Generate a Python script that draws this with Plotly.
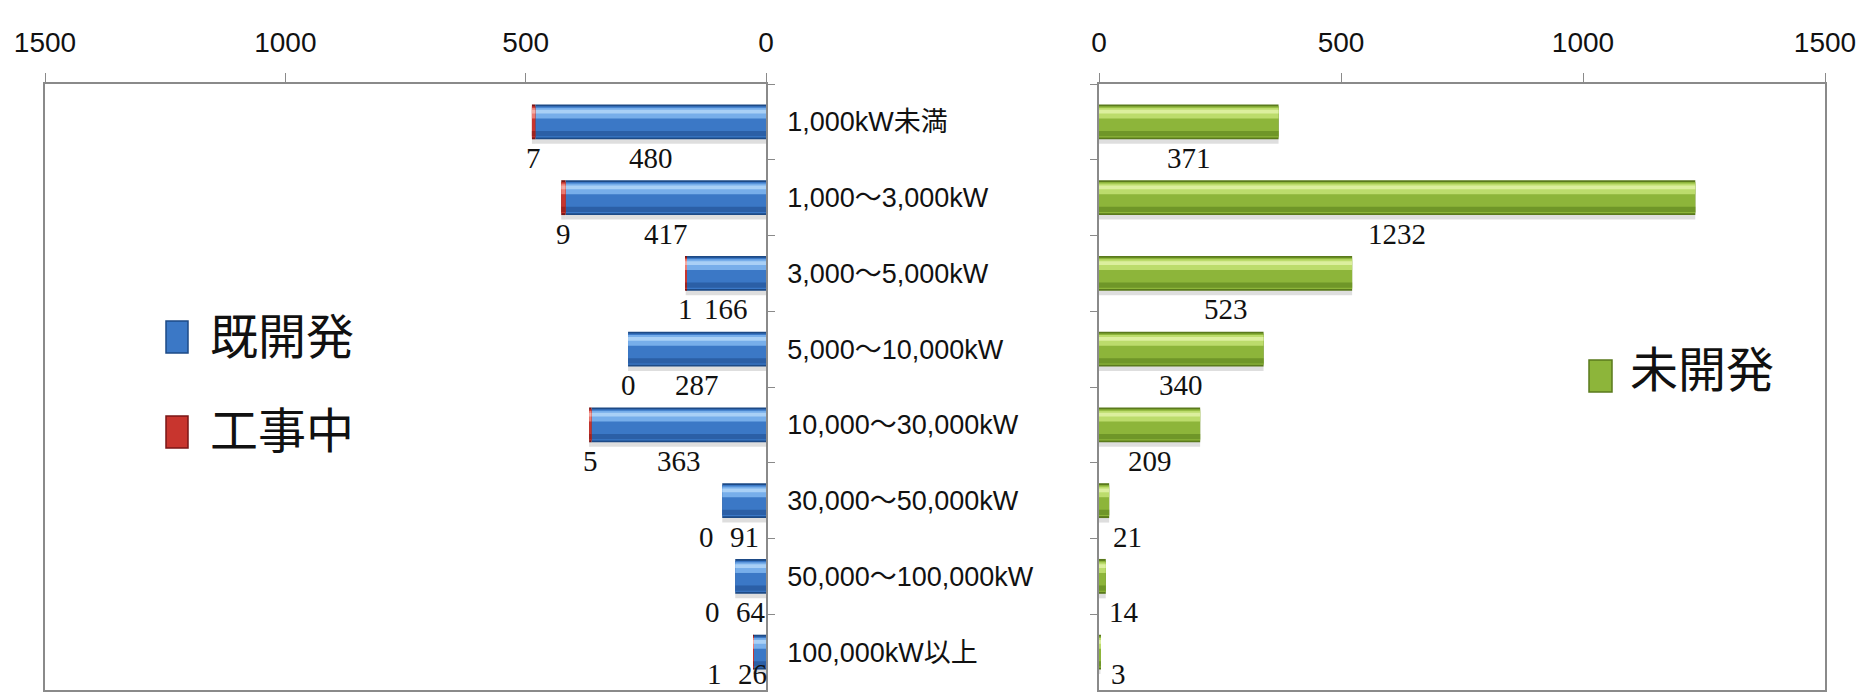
import plotly.graph_objects as go

# ---------------- data ----------------
categories = ["1,000kW未満", "1,000～3,000kW", "3,000～5,000kW", "5,000～10,000kW",
              "10,000～30,000kW", "30,000～50,000kW", "50,000～100,000kW", "100,000kW以上"]
developed = [480, 417, 166, 287, 363, 91, 64, 26]          # 既開発
under_construction = [7, 9, 1, 0, 5, 0, 0, 1]              # 工事中
undeveloped = [371, 1232, 523, 340, 209, 21, 14, 3]        # 未開発
tick_values = [0, 500, 1000, 1500]
legend_left = ["既開発", "工事中"]
legend_right = ["未開発"]

# ---------------- geometry ----------------
W, H = 1863, 693
L_X0, L_X1 = 45, 766       # left plot area (px)
R_X0, R_X1 = 1099, 1825    # right plot area (px)
Y_TOP, Y_BOT = 84, 690
XMAX = 1500
N = len(categories)
px_left = (L_X1 - L_X0) / XMAX
px_right = (R_X1 - R_X0) / XMAX
band = (Y_BOT - Y_TOP) / N

BW = 0.46
blue = dict(shadow="rgba(0,0,0,0.13)", dark="#1d4a86", main="#3b78c6", hi="#77aeea", hi2="#a9d0f6", low="#2b5fa6")
red = dict(shadow="rgba(0,0,0,0.13)", dark="#7a1616", main="#c8352e", hi="#ec7b72", hi2="#f4aaa3", low="#9e2420")
green = dict(shadow="rgba(0,0,0,0.13)", dark="#5a7a1c", main="#8db53a", hi="#bcdc6c", hi2="#dcef9e", low="#6f9628")

fig = go.Figure()


def add_cylinder(x, base, xa, ya, pal):
    layers = [
        (-BW / 2 + 0.06, BW, pal["shadow"]),
        (-BW / 2, BW, pal["dark"]),
        (-BW / 2 + 0.025, BW - 0.05, pal["main"]),
        (-BW / 2 + 0.045, 0.14, pal["hi"]),
        (-BW / 2 + 0.07, 0.05, pal["hi2"]),
        (BW / 2 - 0.11, 0.07, pal["low"]),
    ]
    for off, wd, col in layers:
        fig.add_trace(go.Bar(
            orientation="h", x=x, y=categories, base=base,
            offset=off, width=wd, xaxis=xa, yaxis=ya,
            marker=dict(color=col, line=dict(width=0)),
            showlegend=False, hoverinfo="skip"))


add_cylinder(developed, [0] * N, "x", "y", blue)
add_cylinder(under_construction, developed, "x", "y", red)
add_cylinder(undeveloped, [0] * N, "x2", "y2", green)

axis_color = "#8a8a8a"
tick_font = dict(family="Liberation Sans Narrow, Arial Narrow, Liberation Sans", size=28, color="#111")
cat_font = dict(family="Liberation Sans Narrow, Arial Narrow, Liberation Sans, Noto Sans CJK JP", size=27, color="#111")
lab_font = dict(family="Liberation Serif, Times New Roman, serif", size=29, color="#111")

ydom = [1 - Y_BOT / H, 1 - Y_TOP / H]
yrange = [N - 0.5, -0.5]

common_x = dict(side="top", range=[XMAX, 0], tickvals=tick_values, ticks="outside", ticklen=9,
                tickcolor=axis_color, showline=True, linecolor=axis_color, linewidth=1.5,
                mirror=True, showgrid=False, zeroline=False, tickfont=tick_font,
                ticklabelstandoff=10, automargin=False, fixedrange=True)
common_y = dict(domain=ydom, type="category", categoryorder="array", categoryarray=categories,
                range=yrange, tickson="boundaries", ticks="outside", ticklen=7,
                tickcolor=axis_color, showline=True, linecolor=axis_color, linewidth=1.5,
                mirror=True, showgrid=False, zeroline=False, automargin=False, fixedrange=True)

fig.update_layout(
    width=W, height=H, margin=dict(l=0, r=0, t=0, b=0, pad=0, autoexpand=False),
    paper_bgcolor="white", plot_bgcolor="white",
    barmode="overlay", showlegend=False,
    xaxis=dict(common_x, domain=[L_X0 / W, L_X1 / W], anchor="y"),
    yaxis=dict(common_y, side="right", anchor="x", tickfont=cat_font, ticklabelstandoff=14),
    xaxis2=dict(common_x, domain=[R_X0 / W, R_X1 / W], range=[0, XMAX], anchor="y2"),
    yaxis2=dict(common_y, side="left", anchor="x2", showticklabels=False),
)

ann = []
LAB_DY = 36
for i, cat in enumerate(categories):
    d, c, u = developed[i], under_construction[i], undeveloped[i]
    centre_y = Y_TOP + (i + 0.5) * band
    dy = min(LAB_DY, Y_BOT - 16 - centre_y)
    # left main label (centre of 既開発 segment)
    mid_px = d / 2 * px_left
    main_px = max(mid_px, 13)
    ann.append(dict(x=d / 2, y=cat, xref="x", yref="y", text=str(d), showarrow=False,
                    xshift=-(main_px - mid_px), yshift=-dy, font=lab_font))
    # left 工事中 label
    mid2_px = (d + c / 2) * px_left
    tgt2 = max(mid2_px, main_px + 38)
    ann.append(dict(x=d + c / 2, y=cat, xref="x", yref="y", text=str(c), showarrow=False,
                    xshift=-(tgt2 - mid2_px), yshift=-dy, font=lab_font))
    # right label
    midr = u / 2 * px_right
    tgtr = midr if midr >= 15 else u * px_right + 18
    ann.append(dict(x=u / 2, y=cat, xref="x2", yref="y2", text=str(u), showarrow=False,
                    xshift=tgtr - midr, yshift=-dy, font=lab_font))

# legends drawn manually (large swatches and text)
leg_font = dict(family="Noto Sans CJK JP", size=48, color="#111")
shapes = []
legend_items = [
    (legend_left[0], 166, 321, 188, 353, 208, 333, blue),
    (legend_left[1], 166, 416, 188, 448, 208, 427, red),
    (legend_right[0], 1589, 360, 1612, 392, 1628, 366, green),
]
for text, x0, y0, x1, y1, tx, ty, pal in legend_items:
    shapes.append(dict(type="rect", xref="paper", yref="paper",
                       x0=x0 / W, x1=x1 / W, y0=1 - y1 / H, y1=1 - y0 / H,
                       fillcolor=pal["main"], line=dict(color=pal["dark"], width=1.5)))
    ann.append(dict(x=tx / W, y=1 - ty / H, xref="paper", yref="paper", text=text,
                    showarrow=False, xanchor="left", yanchor="middle", font=leg_font))

fig.update_layout(annotations=ann, shapes=shapes)
fig.write_html("out.html")
